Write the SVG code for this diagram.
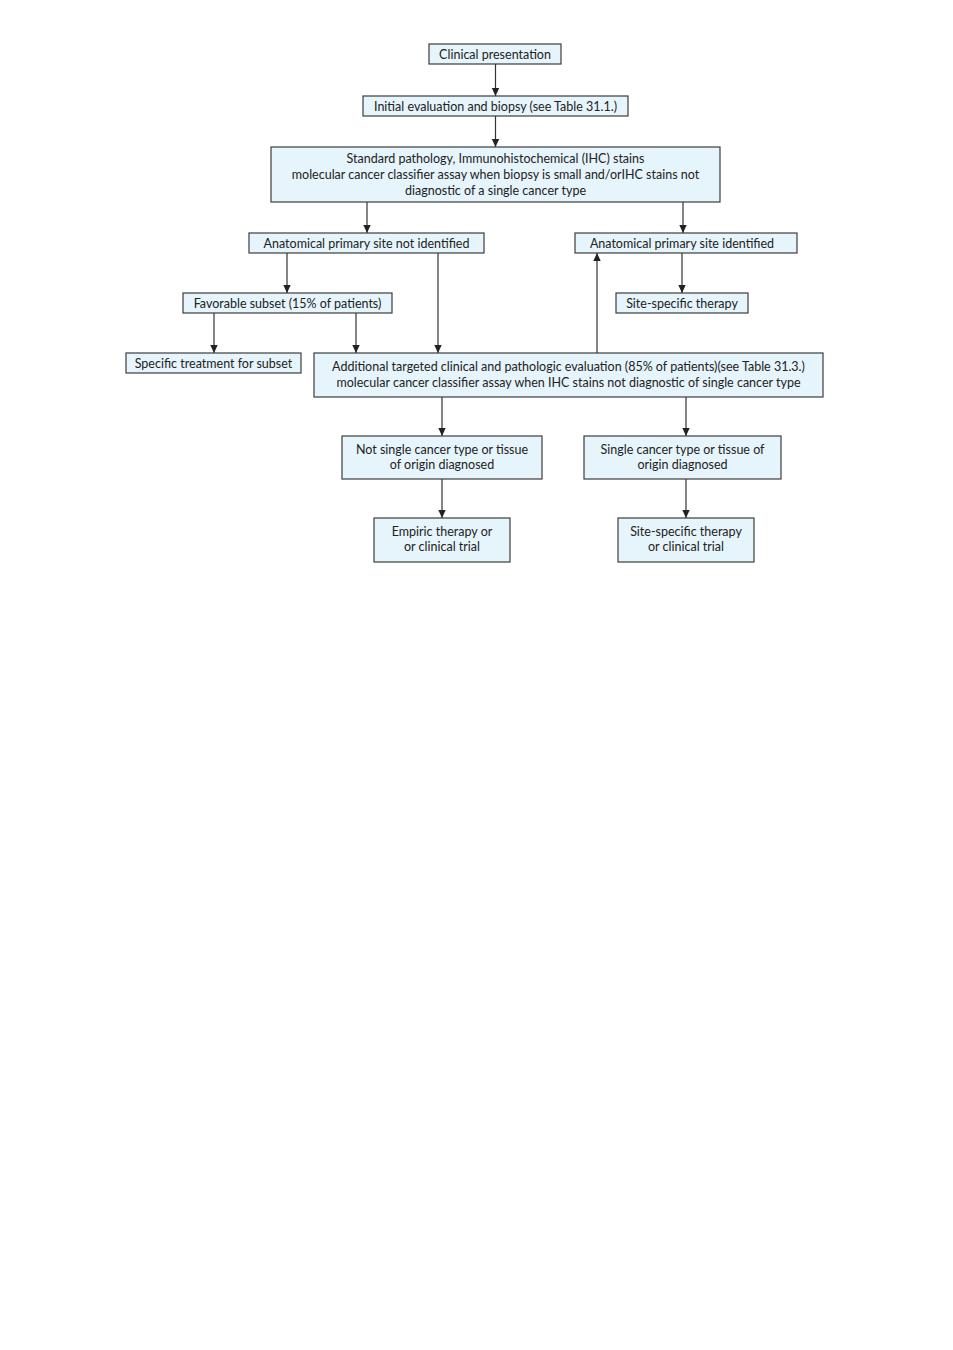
<svg xmlns="http://www.w3.org/2000/svg" width="953" height="1350" viewBox="0 0 953 1350">
<defs>
<marker id="ah" markerWidth="9" markerHeight="9" refX="8" refY="4" orient="auto" markerUnits="userSpaceOnUse">
<path d="M0,0.3 L8,4 L0,7.7 Z" fill="#222"/>
</marker>
<style>
.box{fill:#e6f4fb;stroke:#3c3c3c;stroke-width:1.2}
.t{font-family:Lato,"Open Sans","Liberation Sans",sans-serif;font-size:12.5px;fill:#222;text-anchor:middle}
.c{stroke:#333;stroke-width:1.2;fill:none;marker-end:url(#ah)}
</style>
</defs>
<rect width="953" height="1350" fill="#fff"/>
<g id="connectors">
<line class="c" x1="495.5" y1="64" x2="495.5" y2="96"/>
<line class="c" x1="495.5" y1="116" x2="495.5" y2="147"/>
<line class="c" x1="367" y1="202" x2="367" y2="233"/>
<line class="c" x1="683" y1="202" x2="683" y2="233"/>
<line class="c" x1="287" y1="253" x2="287" y2="293"/>
<line class="c" x1="438" y1="253" x2="438" y2="353"/>
<line class="c" x1="682" y1="253" x2="682" y2="293"/>
<line class="c" x1="214" y1="313" x2="214" y2="353"/>
<line class="c" x1="356" y1="313" x2="356" y2="353"/>
<line class="c" x1="597" y1="353" x2="597" y2="253"/>
<line class="c" x1="442" y1="397" x2="442" y2="436"/>
<line class="c" x1="686" y1="397" x2="686" y2="436"/>
<line class="c" x1="442" y1="479" x2="442" y2="518"/>
<line class="c" x1="686" y1="479" x2="686" y2="518"/>
</g>
<g id="n1"><rect class="box" x="429" y="44" width="132" height="20"/><text class="t" x="495" y="58.5">Clinical presentation</text></g>
<g id="n2"><rect class="box" x="363" y="96" width="265" height="20"/><text class="t" x="495.5" y="110.5">Initial evaluation and biopsy (see Table 31.1.)</text></g>
<g id="n3"><rect class="box" x="271" y="147" width="449" height="55"/>
<text class="t" x="495.5" y="162.5">Standard pathology, Immunohistochemical (IHC) stains</text>
<text class="t" x="495.5" y="178.5">molecular cancer classifier assay when biopsy is small and/orIHC stains not</text>
<text class="t" x="495.5" y="194.5">diagnostic of a single cancer type</text></g>
<g id="n4"><rect class="box" x="249" y="233" width="235" height="20"/><text class="t" x="366.5" y="247.5">Anatomical primary site not identified</text></g>
<g id="n5"><rect class="box" x="575" y="233" width="222" height="20"/><text class="t" x="682" y="247.5">Anatomical primary site identified</text></g>
<g id="n6"><rect class="box" x="183" y="293" width="209" height="20"/><text class="t" x="287.5" y="307.5">Favorable subset (15% of patients)</text></g>
<g id="n7"><rect class="box" x="616" y="293" width="132" height="20"/><text class="t" x="682" y="307.5">Site-specific therapy</text></g>
<g id="n8"><rect class="box" x="126" y="353" width="175" height="20"/><text class="t" x="213.5" y="367.5">Specific treatment for subset</text></g>
<g id="n9"><rect class="box" x="314" y="353" width="509" height="44"/>
<text class="t" x="568.5" y="370.5">Additional targeted clinical and pathologic evaluation (85% of patients)(see Table 31.3.)</text>
<text class="t" x="568.5" y="386.5">molecular cancer classifier assay when IHC stains not diagnostic of single cancer type</text></g>
<g id="n10"><rect class="box" x="342" y="436" width="200" height="43"/>
<text class="t" x="442" y="453.5">Not single cancer type or tissue</text>
<text class="t" x="442" y="468.5">of origin diagnosed</text></g>
<g id="n11"><rect class="box" x="584" y="436" width="197" height="43"/>
<text class="t" x="682.5" y="453.5">Single cancer type or tissue of</text>
<text class="t" x="682.5" y="468.5">origin diagnosed</text></g>
<g id="n12"><rect class="box" x="374" y="518" width="136" height="44"/>
<text class="t" x="442" y="536">Empiric therapy or</text>
<text class="t" x="442" y="551">or clinical trial</text></g>
<g id="n13"><rect class="box" x="618" y="518" width="136" height="44"/>
<text class="t" x="686" y="536">Site-specific therapy</text>
<text class="t" x="686" y="551">or clinical trial</text></g>
</svg>
